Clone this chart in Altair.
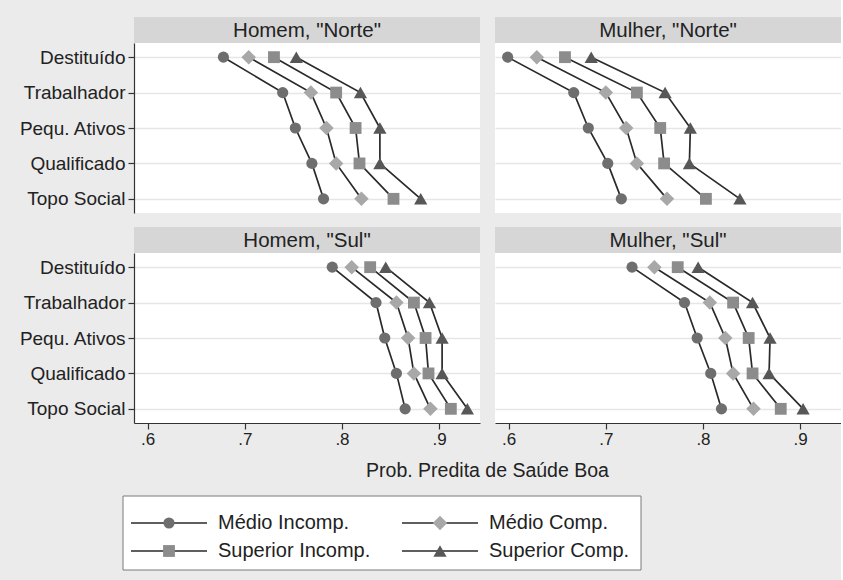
import altair as alt
import pandas as pd

# Social class categories (top to bottom) and education series
classes = ["Destituído", "Trabalhador", "Pequ. Ativos", "Qualificado", "Topo Social"]
series = ["Médio Incomp.", "Médio Comp.", "Superior Incomp.", "Superior Comp."]

# Predicted probability of good health, one list per series (in class order)
homem_norte = {
    "Médio Incomp.": [0.678, 0.739, 0.752, 0.769, 0.781],
    "Médio Comp.": [0.704, 0.768, 0.784, 0.794, 0.820],
    "Superior Incomp.": [0.730, 0.794, 0.814, 0.818, 0.853],
    "Superior Comp.": [0.753, 0.819, 0.839, 0.839, 0.881],
}
mulher_norte = {
    "Médio Incomp.": [0.599, 0.667, 0.682, 0.702, 0.716],
    "Médio Comp.": [0.629, 0.700, 0.721, 0.732, 0.763],
    "Superior Incomp.": [0.658, 0.732, 0.756, 0.760, 0.803],
    "Superior Comp.": [0.685, 0.761, 0.787, 0.786, 0.838],
}
homem_sul = {
    "Médio Incomp.": [0.790, 0.835, 0.844, 0.856, 0.865],
    "Médio Comp.": [0.810, 0.856, 0.868, 0.874, 0.891],
    "Superior Incomp.": [0.829, 0.874, 0.886, 0.889, 0.912],
    "Superior Comp.": [0.845, 0.890, 0.903, 0.903, 0.929],
}
mulher_sul = {
    "Médio Incomp.": [0.727, 0.781, 0.794, 0.808, 0.819],
    "Médio Comp.": [0.750, 0.807, 0.823, 0.831, 0.852],
    "Superior Incomp.": [0.774, 0.831, 0.847, 0.851, 0.880],
    "Superior Comp.": [0.795, 0.851, 0.869, 0.868, 0.903],
}

x_ticks = [0.6, 0.7, 0.8, 0.9]
x_title = "Prob. Predita de Saúde Boa"

# Styling
FONT = "Liberation Sans"
BG = "#ebebeb"
HEADER = "#d6d6d6"
INK = "#222222"
LINE = "#2a2a2a"
PW, PH, HH, GAP = 346, 170, 26, 15

# Marker style per series: (shape, fill, symbol area)
marker_style = {
    "Médio Incomp.": ("circle", "#6e6e6e", 125),
    "Médio Comp.": ("diamond", "#a8a8a8", 210),
    "Superior Incomp.": ("square", "#8c8c8c", 140),
    "Superior Comp.": ("triangle-up", "#575757", 175),
}

x_scale = alt.Scale(domain=[0.586, 0.942], nice=False, zero=False)
y_scale = alt.Scale(domain=classes, padding=0.4)


def to_frame(values):
    rows = []
    for s in series:
        for i, c in enumerate(classes):
            rows.append({"serie": s, "classe": c, "ordem": i, "prob": values[s][i]})
    return pd.DataFrame(rows)


def marker_layers(base):
    layers = []
    for s in series:
        shape, fill, area = marker_style[s]
        layers.append(
            base.transform_filter(alt.datum.serie == s).mark_point(
                filled=True, opacity=1, strokeWidth=0, shape=shape, color=fill, size=area
            )
        )
    return layers


def panel(values, label, show_y, show_x):
    df = to_frame(values)
    if show_x:
        x_axis = alt.Axis(values=x_ticks, title=None, grid=False,
                          labelExpr="replace(format(datum.value, '.1f'), '0.', '.')")
    else:
        x_axis = None
    y_axis = alt.Axis(title=None, labels=show_y, ticks=show_y, domain=show_y, grid=True)

    base = alt.Chart(df).encode(
        x=alt.X("prob:Q", scale=x_scale, axis=x_axis),
        y=alt.Y("classe:N", sort=classes, scale=y_scale, axis=y_axis),
    )
    lines = base.mark_line(color=LINE, strokeWidth=1.7).encode(
        detail="serie:N", order="ordem:Q"
    )
    head_df = pd.DataFrame({"rotulo": [label]})
    head_box = alt.Chart(head_df).mark_rect(fill=HEADER).encode(
        x=alt.value(0), x2=alt.value(PW), y=alt.value(-HH), y2=alt.value(0)
    )
    head_txt = alt.Chart(head_df).mark_text(
        font=FONT, fontSize=20.5, color=INK, baseline="middle", align="center"
    ).encode(text="rotulo:N", x=alt.value(PW / 2), y=alt.value(-HH / 2 + 1))
    return alt.layer(head_box, head_txt, lines, *marker_layers(base)).properties(
        width=PW, height=PH, view=alt.ViewBackground(fill="white", stroke=None)
    )


row1 = alt.hconcat(
    panel(homem_norte, 'Homem, "Norte"', True, False),
    panel(mulher_norte, 'Mulher, "Norte"', False, False),
    spacing=GAP,
)
row2 = alt.hconcat(
    panel(homem_sul, 'Homem, "Sul"', True, True),
    panel(mulher_sul, 'Mulher, "Sul"', False, True),
    spacing=GAP,
)

# Footer (origin aligned with the left panels): shared axis title and the key
leg = pd.DataFrame({
    "serie": series,
    "col": [0, 1, 0, 1],
    "row": [0, 0, 1, 1],
})
fx = alt.X("col:Q", scale=alt.Scale(domain=[0, 1], range=[35, 306]), axis=None)
fy = alt.Y("row:Q", scale=alt.Scale(domain=[0, 1], range=[61, 89]), axis=None)

title_df = pd.DataFrame({"t": [x_title]})
foot_title = alt.Chart(title_df).mark_text(
    font=FONT, fontSize=19.5, color=INK, align="center", baseline="middle"
).encode(text="t:N", x=alt.value(PW + GAP / 2), y=alt.value(9))
foot_box = alt.Chart(title_df).mark_rect(fill="white", stroke="#7a7a7a", strokeWidth=1).encode(
    x=alt.value(-11), x2=alt.value(507), y=alt.value(34), y2=alt.value(108)
)
leg_base = alt.Chart(leg).encode(x=fx, y=fy)
leg_rule = leg_base.mark_rule(color=LINE, strokeWidth=1.6, xOffset=-38, x2Offset=38).encode(
    x2=alt.X2("col:Q")
)
leg_txt = leg_base.mark_text(
    font=FONT, fontSize=20, color=INK, align="left", baseline="middle", dx=49
).encode(text="serie:N")
footer = alt.layer(foot_box, foot_title, leg_rule, *marker_layers(leg_base), leg_txt).properties(
    width=2 * PW + GAP, height=108
)

chart = alt.vconcat(row1, row2, footer, spacing=14).properties(
    background=BG,
    padding={"left": 18, "top": 17, "right": 0, "bottom": 10},
).configure_view(
    stroke=None
).configure_axis(
    labelFont=FONT, labelColor=INK, domainColor="#333333", domainWidth=1.2,
    tickColor="#333333", tickWidth=1.2, tickSize=6, gridColor="#e6e6e6", gridWidth=1.5,
).configure_axisY(
    labelFontSize=19, labelPadding=3,
).configure_axisX(
    labelFontSize=17, labelPadding=2,
)

chart.save("out.html", embed_options={"renderer": "svg", "actions": False})
